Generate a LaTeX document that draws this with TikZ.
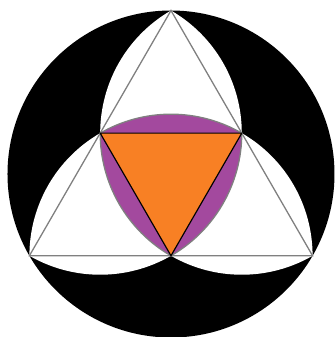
\documentclass[tikz,border=0pt]{standalone}
\usepackage{tikz}
\usetikzlibrary{calc}
\definecolor{reulpurple}{RGB}{163,73,158}
\definecolor{inorange}{RGB}{248,128,36}

\begin{document}
\begin{tikzpicture}[scale=0.03]
  \useasboundingbox (0,0) rectangle (335,337);
  % 外接圆半径与小三角形边长
  \def\R{163.5}
  \pgfmathsetmacro{\a}{\R*sqrt(3)/2}
  \coordinate (O) at (171,163);
  % 大三角形顶点与各边中点
  \coordinate (T)  at ($(O)+(90:\R)$);
  \coordinate (BL) at ($(O)+(210:\R)$);
  \coordinate (BR) at ($(O)+(330:\R)$);
  \coordinate (ML) at ($(T)!0.5!(BL)$);
  \coordinate (MR) at ($(T)!0.5!(BR)$);
  \coordinate (MB) at ($(BL)!0.5!(BR)$);
  % 黑色圆盘
  \fill[black] (O) circle (\R);
  % 三个角上的勒洛三角形（白色）
  \foreach \p in {BL,MB,ML}{
    \fill[white] (\p) arc[start angle=240,end angle=300,radius=\a]
                      arc[start angle=0,end angle=60,radius=\a]
                      arc[start angle=120,end angle=180,radius=\a] -- cycle;
  }
  % 大三角形边线
  \draw[gray, line width=1.1pt] (T) -- (BL) -- (BR) -- cycle;
  % 中间的勒洛三角形（紫色）
  \filldraw[fill=reulpurple, draw=gray, line width=1.1pt]
    (ML) arc[start angle=120,end angle=60,radius=\a]
         arc[start angle=0,end angle=-60,radius=\a]
         arc[start angle=240,end angle=180,radius=\a] -- cycle;
  % 中间的三角形（橙色）
  \filldraw[fill=inorange, draw=black, line width=1pt, line join=round] (ML) -- (MR) -- (MB) -- cycle;
\end{tikzpicture}
\end{document}
